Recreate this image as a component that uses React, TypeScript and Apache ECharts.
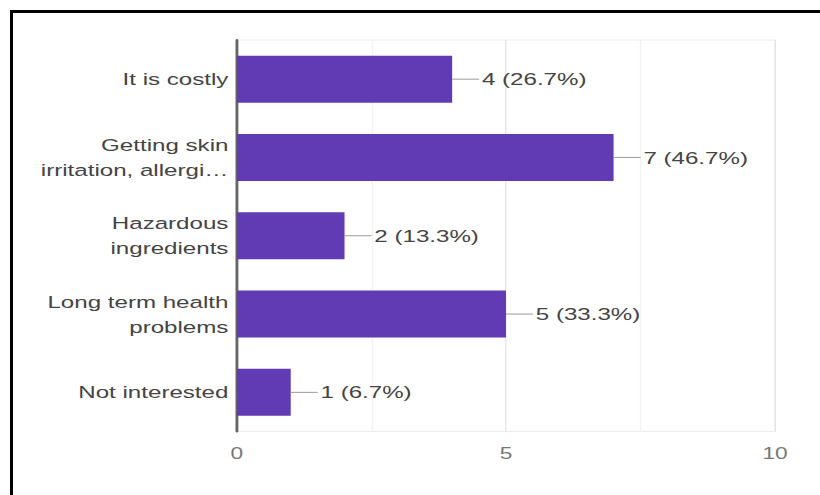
import React, { useEffect, useRef } from "react";
import * as echarts from "echarts";

const categories = [
  "It is costly",
  "Getting skin\nirritation, allergi…",
  "Hazardous\ningredients",
  "Long term health\nproblems",
  "Not interested",
];
const counts = [4, 7, 2, 5, 1];
const percents = ["26.7", "46.7", "13.3", "33.3", "6.7"];
const xTicks = [0, 5, 10];

const W = 578;
const H = 495;
const SX = 820 / W;
const FONT = "'Liberation Sans', Arial, Helvetica, sans-serif";

export default function App() {
  const ref = useRef<HTMLDivElement>(null);
  useEffect(() => {
    document.body.style.overflow = "hidden";
    if (!ref.current) return;
    const chart = echarts.init(ref.current, undefined, { renderer: "svg" });
    chart.setOption({
      animation: false,
      backgroundColor: "#ffffff",
      grid: {
        left: 167,
        right: 31.7,
        top: 40,
        bottom: 63.5,
        show: true,
        borderColor: "#ececec",
        borderWidth: 1,
        backgroundColor: "#ffffff",
      },
      xAxis: {
        type: "value",
        min: xTicks[0],
        max: xTicks[xTicks.length - 1],
        interval: 5,
        axisLine: { show: false },
        axisTick: { show: false },
        axisLabel: {
          color: "#777777",
          fontFamily: FONT,
          fontSize: 16,
          margin: 14,
        },
        splitLine: { show: true, lineStyle: { color: "#e6e6e6", width: 1 } },
        minorTick: { show: false, splitNumber: 2 },
        minorSplitLine: { show: true, lineStyle: { color: "#f3f3f3", width: 1 } },
      },
      yAxis: {
        type: "category",
        data: categories,
        inverse: true,
        axisLine: { show: true, lineStyle: { color: "#666666", width: 2 } },
        axisTick: { show: false },
        splitLine: { show: false },
        axisLabel: {
          color: "#444444",
          fontFamily: FONT,
          fontSize: 17,
          lineHeight: 25,
          margin: 6,
          align: "right",
        },
      },
      series: [
        {
          type: "bar",
          data: counts,
          barWidth: "60%",
          itemStyle: { color: "#603bb3" },
          label: {
            show: true,
            position: "right",
            distance: 21,
            color: "#444444",
            fontFamily: FONT,
            fontSize: 17,
            formatter: (p: any) => `${counts[p.dataIndex]} (${percents[p.dataIndex]}%)`,
          },
          z: 3,
        },
        {
          type: "custom",
          data: counts.map((v, i) => [v, i]),
          encode: { x: 0, y: 1 },
          z: 4,
          renderItem: (params: any, api: any) => {
            const p = api.coord([api.value(0), api.value(1)]);
            return {
              type: "line",
              shape: { x1: p[0], y1: p[1], x2: p[0] + 19, y2: p[1] },
              style: { stroke: "#9a9a9a", lineWidth: 1 },
            };
          },
        },
      ],
    });
    return () => chart.dispose();
  }, []);

  return (
    <>
      <div
        ref={ref}
        style={{
          position: "fixed",
          left: 0,
          top: 0,
          width: W,
          height: H,
          transform: `scaleX(${SX})`,
          transformOrigin: "0 0",
        }}
      />
      <div
        style={{
          position: "fixed",
          left: 10,
          top: 10,
          width: 810,
          height: 3,
          background: "#000",
          pointerEvents: "none",
        }}
      />
      <div
        style={{
          position: "fixed",
          left: 10,
          top: 10,
          width: 3,
          height: 485,
          background: "#000",
          pointerEvents: "none",
        }}
      />
    </>
  );
}
